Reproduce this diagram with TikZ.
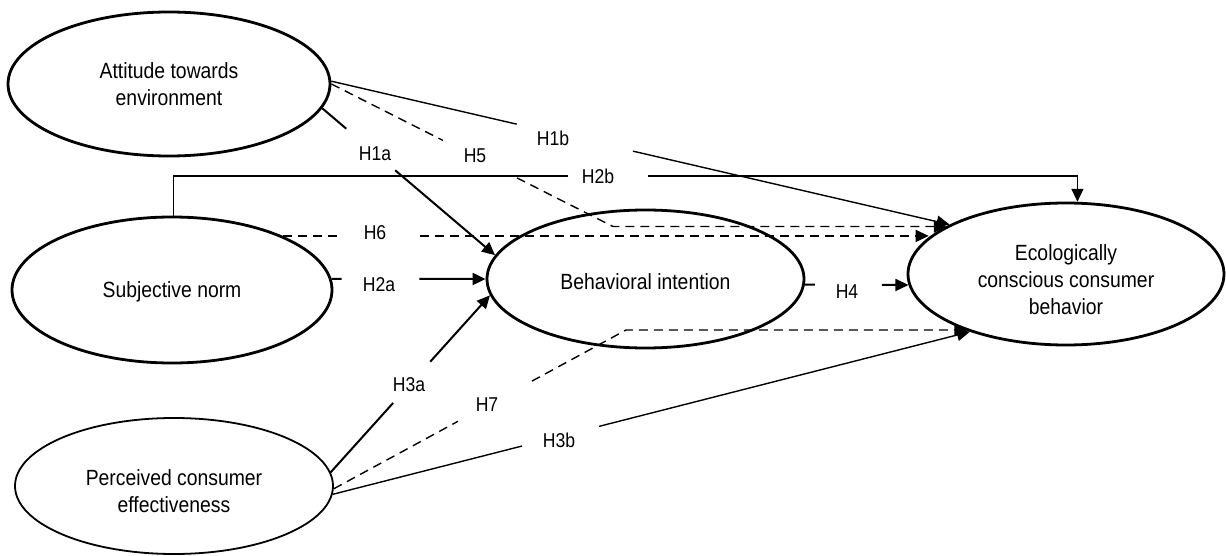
\documentclass[tikz,border=0pt]{standalone}
\usepackage{fontspec}
\setmainfont{Liberation Sans}[FakeStretch=0.88]
\usetikzlibrary{arrows.meta,calc,shapes.geometric}
\begin{document}
\begin{tikzpicture}[x=1pt,y=-1pt,
  conc/.style={ellipse, draw, line width=2.8pt, align=center, inner sep=0pt,
    font=\fontsize{22}{27}\selectfont},
  lab/.style={inner sep=0pt, outer sep=0pt, font=\fontsize{20}{24}\selectfont},
  conn/.style={line width=1.4pt},
  heavy/.style={line width=2pt},
  dsh/.style={line width=1.4pt, dash pattern=on 9pt off 6pt},
  tip/.style={-{Triangle[length=13pt,width=12pt]}}
]
\useasboundingbox (0,0) rectangle (1226,556);

% concepts
\node[conc, minimum width=322pt, minimum height=144pt] (A) at (169,84) {Attitude towards\\environment};
\node[conc, minimum width=320pt, minimum height=146pt] (S) at (172,290) {\rule{0pt}{19pt}Subjective norm};
\node[conc, line width=1.8pt, minimum width=318pt, minimum height=136pt] (P) at (174,486) {\rule{0pt}{26pt}Perceived consumer\\effectiveness};
\node[conc, minimum width=317pt, minimum height=138pt] (B) at (645.5,279) {\rule{0pt}{22pt}Behavioral intention};
\node[conc, minimum width=316pt, minimum height=142pt] (E) at (1066,274) {\rule{0pt}{28pt}Ecologically\\conscious consumer\\behavior};

% gap coordinates
\coordinate (h1a-s) at ($(A.-9)!0.139!(B.171)$);
\coordinate (h1a-e) at ($(A.-9)!0.422!(B.171)$);
\coordinate (h1b-s) at ($(A.1)!0.300!(E.157)$);
\coordinate (h1b-e) at ($(A.1)!0.488!(E.157)$);
\coordinate (b5) at (613,226.5);
\coordinate (h5-s) at ($(A.0)!0.396!(b5)$);
\coordinate (h5-e) at ($(A.0)!0.659!(b5)$);
\coordinate (h2b-s) at (568,176);
\coordinate (h2b-e) at (648,176);
\coordinate (h6-s) at ($(S.26)+(55,0)$);
\coordinate (h6-e) at ($(S.26)+(137,0)$);
\coordinate (h2a-s) at ($(S.4)!0.065!(B.west)$);
\coordinate (h2a-e) at ($(S.4)!0.570!(B.west)$);
\coordinate (h3a-s) at ($(P.5)!0.392!(B.186)$);
\coordinate (h3a-e) at ($(P.5)!0.625!(B.186)$);
\coordinate (b7) at (626,330);
\coordinate (h7-s) at ($(P.-1)!0.425!(b7)$);
\coordinate (h7-e) at ($(P.-1)!0.678!(b7)$);
\coordinate (h3b-s) at ($(P.-3)!0.297!(E.211)$);
\coordinate (h3b-e) at ($(P.-3)!0.418!(E.211)$);
\coordinate (h4-s) at ($(B.-2)!0.097!(E.184)$);
\coordinate (h4-e) at ($(B.-2)!0.743!(E.184)$);

% H1a
\draw[heavy] (A.-9) -- (h1a-s);
\draw[heavy,tip] (h1a-e) -- (B.171);
% H1b
\draw[conn] (A.1) -- (h1b-s);
\draw[conn,tip] (h1b-e) -- (E.157);
% H5
\draw[dsh] (A.0) -- (h5-s);
\draw[dsh,tip] (h5-e) -- (b5) -- (b5 -| E.158);
% H2b
\draw[conn] (S.89) |- (h2b-s);
\draw[conn,tip] (h2b-e) -| (E.81);
% H6
\draw[dsh] (S.26) -- (h6-s);
\draw[dsh,tip] (h6-e) -- (h6-e -| E.165);
% H2a
\draw[heavy] (S.4) -- (h2a-s);
\draw[heavy,tip] (h2a-e) -- (B.west);
% H3a
\draw[heavy] (P.5) -- (h3a-s);
\draw[heavy,tip] (h3a-e) -- (B.186);
% H7
\draw[dsh] (P.-1) -- (h7-s);
\draw[dsh,tip] (h7-e) -- (b7) -- (b7 -| E.210);
% H3b
\draw[conn] (P.-3) -- (h3b-s);
\draw[conn,tip] (h3b-e) -- (E.211);
% H4
\draw[heavy] (B.-2) -- (h4-s);
\draw[heavy,tip] (h4-e) -- (E.184);

% labels
\node[lab] (H1a) at (375,154) {H1a};
\node[lab] (H5) at (475,156) {H5};
\node[lab] (H1b) at (553,138) {H1b};
\node[lab] (H2b) at (598,176) {H2b};
\node[lab] (H6) at (375,233) {H6};
\node[lab] (H2a) at (379,285) {H2a};
\node[lab] (H4) at (847,292) {H4};
\node[lab] (H3a) at (409,385) {H3a};
\node[lab] (H7) at (487,405) {H7};
\node[lab] (H3b) at (559,440) {H3b};
\end{tikzpicture}
\end{document}
